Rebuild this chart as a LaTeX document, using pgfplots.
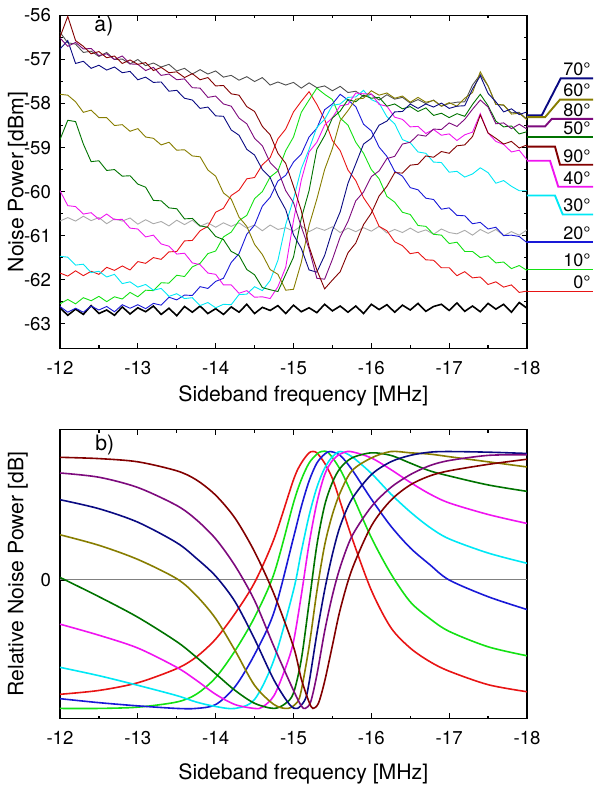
\documentclass[border=0pt]{standalone}
\usepackage{fontspec}
\setmainfont{TeX Gyre Heros}
\usepackage{pgfplots}
\usepackage{pgfplotstable}
\pgfplotsset{compat=1.18}
\definecolor{c0}{RGB}{232,20,20}
\definecolor{c10}{RGB}{20,225,20}
\definecolor{c20}{RGB}{25,25,215}
\definecolor{c30}{RGB}{0,232,245}
\definecolor{c40}{RGB}{240,20,240}
\definecolor{c50}{RGB}{0,115,0}
\definecolor{c60}{RGB}{135,125,0}
\definecolor{c70}{RGB}{10,10,130}
\definecolor{c80}{RGB}{125,10,125}
\definecolor{c90}{RGB}{130,0,0}
\definecolor{lgray}{RGB}{170,170,170}
\definecolor{dgray}{RGB}{80,80,80}

\pgfplotstableread{
f r g b c m dg ol nv pu br dk lg bk
-12.0 -61.85 -62.55 -62.61 -61.47 -59.98 -58.82 -57.79 -56.76 -56.51 -56.49 -56.38 -60.67 -62.64
-12.1 -61.92 -62.45 -62.74 -61.49 -60.32 -58.38 -57.81 -56.57 -56.70 -56.02 -56.62 -60.59 -62.81
-12.2 -61.80 -62.55 -62.65 -61.67 -60.34 -58.41 -57.96 -57.09 -56.61 -56.57 -56.65 -60.67 -62.67
-12.3 -61.91 -62.41 -62.74 -61.65 -60.51 -58.92 -58.20 -57.04 -56.76 -56.70 -56.84 -60.56 -62.79
-12.4 -61.81 -62.48 -62.60 -61.84 -60.48 -59.32 -58.15 -57.20 -56.75 -56.87 -56.81 -60.66 -62.59
-12.5 -61.88 -62.38 -62.69 -61.81 -60.63 -59.30 -58.32 -57.13 -56.91 -56.82 -56.93 -60.59 -62.77
-12.6 -61.72 -62.50 -62.61 -61.94 -60.51 -59.52 -58.32 -57.24 -56.87 -56.96 -56.84 -60.73 -62.69
-12.7 -61.79 -62.39 -62.73 -61.88 -60.64 -59.50 -58.50 -57.17 -57.00 -56.92 -57.00 -60.62 -62.81
-12.8 -61.69 -62.44 -62.57 -62.09 -60.63 -59.65 -58.48 -57.30 -56.92 -57.09 -56.99 -60.67 -62.62
-12.9 -61.78 -62.29 -62.65 -62.05 -60.83 -59.64 -58.63 -57.27 -57.10 -57.01 -57.10 -60.60 -62.78
-13.0 -61.59 -62.39 -62.57 -62.17 -60.85 -59.83 -58.57 -57.46 -57.11 -57.11 -57.00 -60.74 -62.64
-13.1 -61.63 -62.24 -62.66 -62.11 -61.03 -59.90 -58.76 -57.40 -57.25 -57.07 -57.14 -60.64 -62.73
-13.2 -61.50 -62.25 -62.54 -62.24 -60.99 -60.20 -58.79 -57.52 -57.18 -57.25 -57.08 -60.73 -62.60
-13.3 -61.54 -62.07 -62.58 -62.20 -61.19 -60.21 -58.94 -57.51 -57.36 -57.18 -57.17 -60.68 -62.79
-13.4 -61.37 -62.08 -62.40 -62.38 -61.24 -60.37 -58.88 -57.72 -57.33 -57.30 -57.11 -60.78 -62.65
-13.5 -61.36 -61.90 -62.46 -62.32 -61.42 -60.39 -59.06 -57.70 -57.46 -57.28 -57.26 -60.65 -62.82
-13.6 -61.12 -61.93 -62.35 -62.43 -61.40 -60.62 -59.05 -57.88 -57.44 -57.41 -57.20 -60.75 -62.61
-13.7 -61.11 -61.71 -62.36 -62.41 -61.62 -60.61 -59.19 -57.92 -57.64 -57.32 -57.33 -60.65 -62.74
-13.8 -60.89 -61.63 -62.16 -62.59 -61.66 -60.78 -59.21 -58.11 -57.65 -57.46 -57.23 -60.79 -62.60
-13.9 -60.79 -61.41 -62.20 -62.52 -61.85 -60.81 -59.51 -58.08 -57.86 -57.41 -57.33 -60.71 -62.77
-14.0 -60.47 -61.35 -62.04 -62.64 -61.88 -61.02 -59.65 -58.28 -57.83 -57.60 -57.26 -60.81 -62.66
-14.1 -60.38 -61.03 -61.97 -62.56 -62.12 -61.09 -60.03 -58.29 -58.01 -57.59 -57.40 -60.71 -62.79
-14.2 -60.09 -60.92 -61.61 -62.57 -62.12 -61.36 -60.17 -58.60 -58.06 -57.78 -57.36 -60.79 -62.62
-14.3 -59.97 -60.66 -61.41 -62.34 -62.31 -61.45 -60.58 -58.72 -58.33 -57.81 -57.47 -60.71 -62.74
-14.4 -59.71 -60.54 -60.97 -62.33 -62.25 -61.77 -60.79 -59.04 -58.46 -58.07 -57.39 -60.83 -62.56
-14.5 -59.68 -60.16 -60.76 -62.16 -62.40 -61.89 -61.20 -59.17 -58.79 -58.18 -57.50 -60.76 -62.77
-14.6 -59.39 -60.00 -60.33 -62.25 -62.39 -62.18 -61.43 -59.50 -58.96 -58.52 -57.41 -60.89 -62.63
-14.7 -59.23 -59.67 -60.13 -62.02 -62.43 -62.23 -61.77 -59.68 -59.34 -58.71 -57.58 -60.76 -62.70
-14.8 -58.80 -59.53 -59.76 -61.56 -62.16 -62.27 -61.88 -60.09 -59.52 -59.13 -57.51 -60.86 -62.59
-14.9 -58.58 -59.07 -59.63 -60.75 -61.72 -61.88 -62.24 -60.41 -59.98 -59.36 -57.58 -60.82 -62.77
-15.0 -58.19 -58.76 -59.33 -60.17 -60.66 -61.49 -62.22 -60.98 -60.25 -59.88 -57.52 -60.90 -62.58
-15.1 -57.95 -58.20 -59.15 -59.48 -59.74 -60.61 -61.61 -61.29 -60.80 -60.43 -57.65 -60.78 -62.73
-15.2 -57.73 -57.92 -58.76 -59.04 -59.10 -59.98 -60.77 -61.78 -61.30 -61.25 -57.53 -60.91 -62.64
-15.3 -58.02 -57.65 -58.56 -58.54 -58.88 -59.04 -60.17 -61.83 -61.97 -61.78 -57.64 -60.82 -62.75
-15.4 -58.36 -57.79 -58.14 -58.36 -58.49 -58.73 -59.50 -61.45 -61.99 -62.21 -57.60 -60.88 -62.56
-15.5 -58.84 -57.91 -58.01 -58.04 -58.32 -58.33 -59.02 -60.88 -61.54 -62.01 -57.71 -60.80 -62.71
-15.6 -59.07 -58.33 -57.79 -58.01 -58.05 -58.17 -58.39 -60.46 -61.03 -61.82 -57.61 -60.93 -62.60
-15.7 -59.51 -58.49 -57.92 -57.86 -58.02 -57.91 -58.16 -59.81 -60.68 -61.39 -57.75 -60.83 -62.74
-15.8 -59.75 -58.88 -58.07 -57.85 -57.76 -57.96 -57.90 -59.37 -60.21 -61.17 -57.72 -60.91 -62.60
-15.9 -60.14 -59.13 -58.47 -57.70 -57.78 -57.81 -57.88 -58.92 -60.01 -60.75 -57.84 -60.82 -62.77
-16.0 -60.40 -59.50 -58.62 -57.91 -57.78 -57.88 -57.71 -58.79 -59.66 -60.49 -57.79 -60.90 -62.56
-16.1 -60.79 -59.71 -58.99 -57.99 -58.02 -57.86 -57.81 -58.49 -59.53 -60.10 -57.92 -60.79 -62.68
-16.2 -60.89 -60.11 -59.20 -58.30 -58.06 -58.06 -57.76 -58.40 -59.25 -59.88 -57.80 -60.94 -62.57
-16.3 -61.14 -60.24 -59.54 -58.46 -58.31 -58.01 -57.88 -58.19 -59.20 -59.57 -57.90 -60.86 -62.74
-16.4 -61.23 -60.47 -59.65 -58.82 -58.36 -58.12 -57.83 -58.18 -58.92 -59.58 -57.86 -60.93 -62.58
-16.5 -61.41 -60.52 -59.91 -58.89 -58.53 -58.07 -57.97 -58.01 -58.88 -59.40 -57.99 -60.83 -62.69
-16.6 -61.38 -60.77 -59.96 -59.10 -58.52 -58.18 -57.86 -58.11 -58.71 -59.38 -57.91 -60.93 -62.54
-16.7 -61.55 -60.79 -60.15 -59.13 -58.68 -58.10 -57.97 -58.01 -58.74 -59.19 -58.00 -60.87 -62.72
-16.8 -61.56 -60.97 -60.18 -59.33 -58.59 -58.27 -57.93 -58.08 -58.58 -59.22 -57.92 -60.97 -62.61
-16.9 -61.73 -60.99 -60.40 -59.34 -58.72 -58.22 -58.06 -57.99 -58.59 -59.09 -58.06 -60.85 -62.56
-17.0 -61.73 -61.18 -60.37 -59.56 -58.69 -58.32 -57.98 -58.11 -58.44 -59.13 -58.00 -60.93 -62.70
-17.1 -61.91 -61.15 -60.54 -59.54 -58.84 -58.23 -58.06 -58.06 -58.52 -58.96 -57.97 -60.96 -62.53
-17.2 -61.82 -61.36 -60.55 -59.67 -58.71 -58.29 -57.88 -58.05 -58.36 -58.94 -57.96 -60.88 -62.72
-17.3 -61.96 -61.36 -60.73 -59.60 -58.65 -58.02 -57.75 -57.67 -58.13 -58.75 -57.58 -60.99 -62.60
-17.4 -61.94 -61.50 -60.70 -59.46 -58.23 -57.79 -57.28 -57.37 -57.92 -58.26 -57.34 -60.86 -62.73
-17.5 -62.11 -61.46 -60.85 -59.57 -58.67 -58.05 -57.60 -57.77 -58.08 -58.67 -57.60 -60.95 -62.54
-17.6 -62.05 -61.62 -60.81 -59.81 -58.86 -58.40 -58.02 -57.96 -58.46 -58.79 -58.02 -60.86 -62.67
-17.7 -62.17 -61.60 -61.00 -59.75 -58.93 -58.53 -58.03 -58.19 -58.44 -58.92 -58.04 -61.00 -62.56
-17.8 -62.12 -61.75 -60.99 -59.88 -59.10 -58.51 -58.24 -58.12 -58.57 -58.86 -58.21 -60.91 -62.74
-17.9 -62.29 -61.68 -61.02 -59.98 -59.06 -58.69 -58.22 -58.25 -58.47 -59.01 -58.20 -60.99 -62.52
-18.0 -62.26 -61.79 -61.16 -59.98 -59.28 -58.64 -58.37 -58.19 -58.58 -58.94 -58.36 -60.87 -62.65
}\tops

\pgfplotsset{
  base/.style={
    scale only axis, width=233.5pt,
    x dir=reverse, xmin=-18, xmax=-12,
    xtick={-18,-17,-16,-15,-14,-13,-12}, minor x tick num=1,
    tick align=inside, xtick pos=both,
    major tick length=2.7pt, minor tick length=1.5pt,
    axis line style={line width=0.7pt},
    every tick/.style={black, line width=0.6pt},
    /pgf/number format/assume math mode=true,
    ticklabel style={font=\fontsize{9.3}{11}\selectfont},
    xticklabel style={yshift=-3pt},
    yticklabel style={xshift=-1pt},
    label style={font=\fontsize{10.6}{12}\selectfont},
    xlabel={Sideband frequency [MHz]},
    ylabel style={at={(axis description cs:-0.09,0.5)}, anchor=center},
  },
}
\tikzset{
  tl/.style={line width=0.45pt},
  bl/.style={line width=0.8pt, smooth},
  ll/.style={line width=0.95pt},
  lab/.style={anchor=south east, inner sep=0.7pt, text=black, font=\fontsize{9}{11}\selectfont},
}

\begin{document}
\begin{tikzpicture}
\path[use as bounding box] (-30pt,7.75pt) rectangle (266.5pt,-389.75pt);
\begin{axis}[base, at={(0,0)}, anchor=north west, height=166.4pt,
  ymin=-63.56, ymax=-56, ytick={-63,-62,-61,-60,-59,-58,-57,-56}, minor y tick num=1,
  ytick pos=both, clip mode=individual,
  ylabel={Noise Power [dBm]},
  xlabel style={at={(axis description cs:0.521,-0.143)}, anchor=center}]
\addplot[lgray, tl] table[x=f,y=lg]{\tops};
\addplot[black, line width=0.8pt] table[x=f,y=bk]{\tops};
\addplot[dgray, tl] table[x=f,y=dk]{\tops};
\addplot[c0, tl] table[x=f,y=r]{\tops};
\addplot[c10, tl] table[x=f,y=g]{\tops};
\addplot[c20, tl] table[x=f,y=b]{\tops};
\addplot[c30, tl] table[x=f,y=c]{\tops};
\addplot[c40, tl] table[x=f,y=m]{\tops};
\addplot[c50, tl] table[x=f,y=dg]{\tops};
\addplot[c60, tl] table[x=f,y=ol]{\tops};
\addplot[c70, tl] table[x=f,y=nv]{\tops};
\addplot[c80, tl] table[x=f,y=pu]{\tops};
\addplot[c90, tl] table[x=f,y=br]{\tops};
\draw[draw=c70, ll] (axis cs:-18,-58.27) -- (axis cs:-18.189,-58.27) -- (axis cs:-18.433,-57.43) -- (axis cs:-18.848,-57.43) node[lab] {70°};
\draw[draw=c60, ll] (axis cs:-18,-58.31) -- (axis cs:-18.232,-58.31) -- (axis cs:-18.424,-57.91) -- (axis cs:-18.848,-57.91) node[lab] {60°};
\draw[draw=c80, ll] (axis cs:-18,-58.52) -- (axis cs:-18.232,-58.52) -- (axis cs:-18.318,-58.35) -- (axis cs:-18.848,-58.35) node[lab] {80°};
\draw[draw=c50, ll] (axis cs:-18,-58.77) -- (axis cs:-18.848,-58.77) node[lab] {50°};
\draw[draw=c90, ll] (axis cs:-18,-58.98) -- (axis cs:-18.36,-58.98) -- (axis cs:-18.424,-59.39) -- (axis cs:-18.848,-59.39) node[lab] {90°};
\draw[draw=c40, ll] (axis cs:-18,-59.30) -- (axis cs:-18.296,-59.30) -- (axis cs:-18.402,-59.89) -- (axis cs:-18.848,-59.89) node[lab] {40°};
\draw[draw=c30, ll] (axis cs:-18,-60.09) -- (axis cs:-18.36,-60.09) -- (axis cs:-18.459,-60.52) -- (axis cs:-18.848,-60.52) node[lab] {30°};
\draw[draw=c20, ll] (axis cs:-18,-61.14) -- (axis cs:-18.848,-61.14) node[lab] {20°};
\draw[draw=c10, ll] (axis cs:-18,-61.77) -- (axis cs:-18.848,-61.77) node[lab] {10°};
\draw[draw=c0, ll] (axis cs:-18,-62.27) -- (axis cs:-18.848,-62.27) node[lab] {0°};
\node[font=\fontsize{10.6}{12}\selectfont] at (axis description cs:0.094,0.967) {a)};
\end{axis}

\begin{axis}[base, at={(0,-207.1pt)}, anchor=north west, height=144.5pt,
  ymin=-1.08, ymax=1.17, ytick={0}, ytick pos=left,
  ylabel={Relative Noise Power [dB]},
  xlabel style={at={(axis description cs:0.521,-0.192)}, anchor=center}]
\addplot[gray, line width=0.5pt] coordinates {(-12,0) (-18,0)};
\addplot[c0, bl] coordinates {(-12,-0.89) (-12.5,-0.86) (-13,-0.80) (-13.5,-0.69) (-13.75,-0.60) (-14,-0.46) (-14.25,-0.26) (-14.5,-0.02) (-14.75,0.32) (-15,0.78) (-15.1,0.91) (-15.2,0.99) (-15.25,1.0) (-15.3,0.99) (-15.4,0.91) (-15.5,0.79) (-15.6,0.61) (-15.75,0.33) (-16,-0.08) (-16.25,-0.37) (-16.5,-0.53) (-16.75,-0.635) (-17,-0.71) (-17.5,-0.815) (-18,-0.87)};
\addplot[c10, bl] coordinates {(-12,-1.0) (-12.5,-1.0) (-13,-0.99) (-13.5,-0.95) (-13.75,-0.89) (-14,-0.76) (-14.25,-0.55) (-14.5,-0.29) (-14.75,0.05) (-15,0.60) (-15.1,0.78) (-15.2,0.91) (-15.3,0.98) (-15.36,1.0) (-15.45,0.99) (-15.6,0.86) (-15.75,0.67) (-16,0.33) (-16.25,0.05) (-16.5,-0.17) (-16.75,-0.30) (-17,-0.40) (-17.5,-0.52) (-18,-0.59)};
\addplot[c20, bl] coordinates {(-12,-0.924) (-12.5,-0.955) (-13,-0.98) (-13.5,-1.0) (-13.75,-1.0) (-14,-0.97) (-14.25,-0.83) (-14.5,-0.58) (-14.75,-0.25) (-15,0.33) (-15.1,0.57) (-15.2,0.77) (-15.3,0.91) (-15.4,0.98) (-15.47,1.0) (-15.6,0.97) (-15.75,0.86) (-16,0.63) (-16.25,0.42) (-16.5,0.25) (-16.75,0.12) (-17,0.0) (-17.5,-0.13) (-18,-0.23)};
\addplot[c30, bl] coordinates {(-12,-0.68) (-12.5,-0.745) (-13,-0.82) (-13.5,-0.90) (-13.75,-0.95) (-14,-0.985) (-14.25,-1.0) (-14.5,-0.93) (-14.75,-0.62) (-15,-0.08) (-15.1,0.22) (-15.2,0.50) (-15.3,0.72) (-15.4,0.87) (-15.5,0.96) (-15.6,1.0) (-15.75,0.96) (-16,0.83) (-16.25,0.67) (-16.5,0.53) (-16.75,0.41) (-17,0.32) (-17.5,0.21) (-18,0.13)};
\addplot[c40, bl] coordinates {(-12,-0.344) (-12.5,-0.43) (-13,-0.53) (-13.5,-0.68) (-13.75,-0.78) (-14,-0.89) (-14.25,-0.97) (-14.5,-1.0) (-14.6,-0.99) (-14.75,-0.90) (-14.9,-0.68) (-15,-0.48) (-15.1,-0.12) (-15.2,0.28) (-15.3,0.60) (-15.4,0.82) (-15.5,0.93) (-15.6,0.98) (-15.73,1.0) (-16,0.95) (-16.25,0.86) (-16.5,0.76) (-16.75,0.67) (-17,0.60) (-17.5,0.51) (-18,0.44)};
\addplot[c50, bl] coordinates {(-12,0.02) (-12.5,-0.13) (-13,-0.29) (-13.5,-0.48) (-13.75,-0.60) (-14,-0.73) (-14.25,-0.86) (-14.5,-0.96) (-14.75,-1.0) (-14.9,-0.96) (-15,-0.88) (-15.1,-0.62) (-15.2,-0.18) (-15.3,0.27) (-15.4,0.58) (-15.5,0.76) (-15.6,0.87) (-15.75,0.95) (-16,0.99) (-16.25,0.97) (-16.5,0.91) (-16.75,0.85) (-17,0.81) (-17.5,0.74) (-18,0.69)};
\addplot[c60, bl] coordinates {(-12,0.352) (-12.5,0.27) (-13,0.16) (-13.5,0.01) (-13.75,-0.12) (-14,-0.30) (-14.25,-0.55) (-14.5,-0.82) (-14.75,-0.97) (-14.93,-1.0) (-15.05,-0.95) (-15.1,-0.86) (-15.2,-0.52) (-15.3,-0.09) (-15.4,0.27) (-15.5,0.51) (-15.6,0.68) (-15.75,0.85) (-16,0.95) (-16.25,1.0) (-16.5,0.99) (-16.75,0.98) (-17,0.96) (-17.5,0.92) (-18,0.88)};
\addplot[c70, bl] coordinates {(-12,0.625) (-12.5,0.555) (-13,0.45) (-13.5,0.29) (-13.75,0.17) (-14,0.03) (-14.25,-0.17) (-14.5,-0.46) (-14.75,-0.78) (-14.95,-0.97) (-15.05,-1.0) (-15.15,-0.93) (-15.2,-0.80) (-15.3,-0.42) (-15.4,-0.08) (-15.5,0.20) (-15.6,0.42) (-15.75,0.63) (-16,0.82) (-16.25,0.92) (-16.5,0.97) (-16.75,0.995) (-17,1.0) (-17.5,0.995) (-18,0.985)};
\addplot[c80, bl] coordinates {(-12,0.833) (-12.5,0.80) (-13,0.72) (-13.5,0.58) (-13.75,0.47) (-14,0.32) (-14.25,0.11) (-14.5,-0.16) (-14.75,-0.52) (-15,-0.86) (-15.1,-0.98) (-15.15,-1.0) (-15.22,-0.95) (-15.3,-0.74) (-15.4,-0.40) (-15.5,-0.12) (-15.6,0.10) (-15.75,0.34) (-16,0.57) (-16.25,0.72) (-16.5,0.82) (-16.75,0.89) (-17,0.93) (-17.5,0.97) (-18,0.975)};
\addplot[c90, bl] coordinates {(-12,0.955) (-12.5,0.945) (-13,0.92) (-13.5,0.85) (-13.75,0.78) (-14,0.66) (-14.25,0.48) (-14.5,0.22) (-14.75,-0.11) (-15,-0.52) (-15.1,-0.77) (-15.2,-0.95) (-15.25,-1.0) (-15.32,-0.96) (-15.4,-0.79) (-15.5,-0.51) (-15.6,-0.23) (-15.75,0.08) (-16,0.42) (-16.25,0.62) (-16.5,0.74) (-16.75,0.81) (-17,0.85) (-17.5,0.90) (-18,0.94)};
\node[font=\fontsize{10.6}{12}\selectfont] at (axis description cs:0.096,0.948) {b)};
\end{axis}
\end{tikzpicture}
\end{document}
